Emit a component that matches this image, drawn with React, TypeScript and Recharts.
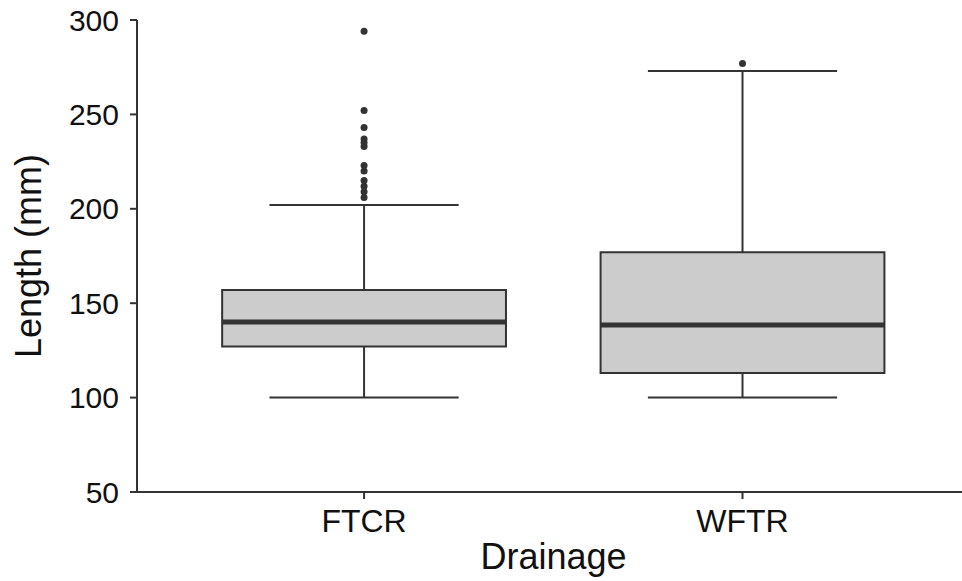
import React from "react";
import {
  ComposedChart,
  XAxis,
  YAxis,
  Scatter,
  ReferenceArea,
  ReferenceLine,
} from "recharts";

// Length by drainage - box plot
const categories = ["FTCR", "WFTR"];
const lowerWhisker = [100, 100];
const q1 = [127, 113];
const median = [140, 138.5];
const q3 = [157, 177];
const upperWhisker = [202, 273];
const outliersFTCR = [294, 252, 243, 237, 235, 233, 223, 220, 215, 212, 209, 206];
const outliersWFTR = [277];
const yTicks = [50, 100, 150, 200, 250, 300];

const BOX_HALF = 0.375;
const CAP_HALF = 0.25;
const LINE = "#333333";
const FONT = "'Liberation Sans', Arial, sans-serif";

const outlierData = [
  ...outliersFTCR.map((y) => ({ x: 1, y })),
  ...outliersWFTR.map((y) => ({ x: 2, y })),
];

export default function App() {
  return (
    <div style={{ position: "absolute", left: 0, top: 0, background: "#fff" }}>
      <ComposedChart
        width={962}
        height={581}
        margin={{ top: 20, right: 0, bottom: 0, left: 0 }}
        style={{ fontFamily: FONT }}
      >
        <XAxis
          type="number"
          dataKey="x"
          domain={[0.4, 2.58]}
          ticks={[1, 2]}
          tickFormatter={(v: number) => categories[v - 1]}
          height={89}
          stroke={LINE}
          strokeWidth={2}
          tickSize={7}
          tickMargin={10}
          tick={{ fill: "#111", fontSize: 32, fontFamily: FONT }}
          label={{
            content: ({ viewBox }: any) => (
              <text
                x={viewBox.x + viewBox.width / 2 + 4}
                y={569}
                textAnchor="middle"
                fill="#111"
                fontSize={36}
                fontFamily={FONT}
              >
                Drainage
              </text>
            ),
          }}
        />
        <YAxis
          type="number"
          dataKey="y"
          domain={[50, 300]}
          ticks={yTicks}
          width={137}
          stroke={LINE}
          strokeWidth={2}
          tickSize={7}
          tickMargin={11}
          tick={{ fill: "#111", fontSize: 30, fontFamily: FONT }}
          label={{
            content: ({ viewBox }: any) => {
              const cx = 28;
              const cy = viewBox.y + viewBox.height / 2;
              return (
                <text
                  x={cx}
                  y={cy}
                  transform={`rotate(-90, ${cx}, ${cy})`}
                  textAnchor="middle"
                  dominantBaseline="central"
                  fill="#111"
                  fontSize={36}
                  fontFamily={FONT}
                >
                  Length (mm)
                </text>
              );
            },
          }}
        />
        {categories.map((c, i) => {
          const x = i + 1;
          return (
            <React.Fragment key={c}>
              <ReferenceLine
                segment={[{ x, y: q3[i] }, { x, y: upperWhisker[i] }]}
                stroke={LINE}
                strokeWidth={2}
              />
              <ReferenceLine
                segment={[{ x, y: lowerWhisker[i] }, { x, y: q1[i] }]}
                stroke={LINE}
                strokeWidth={2}
              />
              <ReferenceLine
                segment={[
                  { x: x - CAP_HALF, y: upperWhisker[i] },
                  { x: x + CAP_HALF, y: upperWhisker[i] },
                ]}
                stroke={LINE}
                strokeWidth={2}
              />
              <ReferenceLine
                segment={[
                  { x: x - CAP_HALF, y: lowerWhisker[i] },
                  { x: x + CAP_HALF, y: lowerWhisker[i] },
                ]}
                stroke={LINE}
                strokeWidth={2}
              />
              <ReferenceArea
                x1={x - BOX_HALF}
                x2={x + BOX_HALF}
                y1={q1[i]}
                y2={q3[i]}
                fill="#cccccc"
                fillOpacity={1}
                stroke={LINE}
                strokeWidth={2}
              />
              <ReferenceLine
                segment={[
                  { x: x - BOX_HALF, y: median[i] },
                  { x: x + BOX_HALF, y: median[i] },
                ]}
                stroke={LINE}
                strokeWidth={5}
              />
            </React.Fragment>
          );
        })}
        <Scatter
          data={outlierData}
          isAnimationActive={false}
          shape={(p: any) => <circle cx={p.cx} cy={p.cy} r={3.5} fill={LINE} />}
        />
      </ComposedChart>
    </div>
  );
}
